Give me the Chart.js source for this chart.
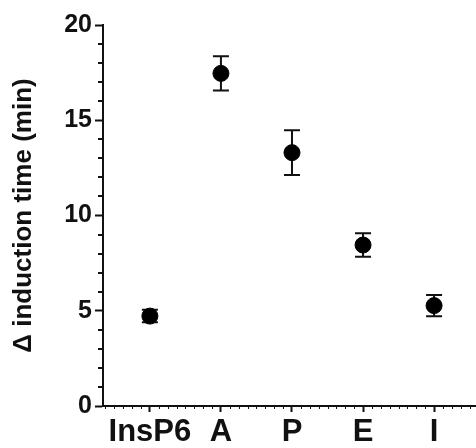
<!DOCTYPE html>
<html>
<head>
<meta charset="utf-8">
<script src="https://cdn.jsdelivr.net/npm/chart.js@4.4.0/dist/chart.umd.min.js"></script>
<style>
  html, body { margin: 0; padding: 0; background: #fff; }
  #wrap { width: 476px; height: 448px; }
</style>
</head>
<body>
<div id="wrap"><canvas id="grafico"></canvas></div>
<script>
// dados
const categorias = ['InsP6', 'A', 'P', 'E', 'I'];
const medias = [4.72, 17.46, 13.3, 8.45, 5.27];
const erros = [0.33, 0.9, 1.17, 0.62, 0.56];
const ticksY = [0, 5, 10, 15, 20];

const pontos = categorias.map((c, i) => ({ x: i + 1, y: medias[i] }));

// barras de erro desenhadas com as escalas do Chart.js
const barrasErro = {
    id: 'barrasErro',
    beforeDatasetsDraw(chart) {
        const ctx = chart.ctx;
        const sx = chart.scales.x, sy = chart.scales.y;
        ctx.save();
        ctx.strokeStyle = '#111';
        ctx.lineWidth = 2;
        medias.forEach((m, i) => {
            const px = sx.getPixelForValue(i + 1);
            const top = sy.getPixelForValue(m + erros[i]);
            const bot = sy.getPixelForValue(m - erros[i]);
            ctx.beginPath();
            ctx.moveTo(px, top); ctx.lineTo(px, bot);
            ctx.moveTo(px - 8, top); ctx.lineTo(px + 8, top);
            ctx.moveTo(px - 8, bot); ctx.lineTo(px + 8, bot);
            ctx.stroke();
        });
        ctx.restore();
    }
};

// traços menores nos eixos
const tracosMenores = {
    id: 'tracosMenores',
    afterDraw(chart) {
        const ctx = chart.ctx;
        const sx = chart.scales.x, sy = chart.scales.y;
        const area = chart.chartArea;
        ctx.save();
        ctx.strokeStyle = '#111';
        ctx.lineWidth = 2;
        ctx.beginPath();
        for (let v = sy.min; v <= sy.max; v++) {
            if (v % 5 === 0) continue;
            const py = Math.round(sy.getPixelForValue(v));
            ctx.moveTo(area.left - 5, py); ctx.lineTo(area.left, py);
        }
        ctx.stroke();
        ctx.lineWidth = 1;
        ctx.beginPath();
        for (let v = Math.ceil(sx.min * 8) / 8; v <= sx.max; v += 0.125) {
            if (Math.abs(v - Math.round(v)) < 0.01) continue;
            const px = Math.round(sx.getPixelForValue(v)) + 0.5;
            ctx.moveTo(px, area.bottom); ctx.lineTo(px, area.bottom + 3);
        }
        ctx.stroke();
        ctx.restore();
    }
};

new Chart(document.getElementById('grafico').getContext('2d'), {
    type: 'scatter',
    data: {
        datasets: [{
            data: pontos,
            backgroundColor: '#000',
            borderColor: '#000',
            pointRadius: 8,
            pointHoverRadius: 8
        }]
    },
    options: {
        responsive: true,
        maintainAspectRatio: false,
        animation: false,
        layout: { autoPadding: false, padding: { top: 25, right: 0, left: 0, bottom: 0 } },
        plugins: {
            legend: { display: false },
            tooltip: { enabled: false }
        },
        scales: {
            x: {
                type: 'linear',
                min: 0.34,
                max: 5.59,
                afterBuildTicks: (s) => { s.ticks = categorias.map((c, i) => ({ value: i + 1 })); },
                afterFit: (s) => { s.height = 42; s.paddingLeft = 0; s.paddingRight = 0; },
                border: { color: '#111', width: 2 },
                grid: { drawOnChartArea: false, tickLength: 6, tickWidth: 2, tickColor: '#111' },
                ticks: {
                    color: '#111',
                    padding: 2,
                    maxRotation: 0,
                    autoSkip: false,
                    font: { family: "'Liberation Sans', Arial, sans-serif", size: 31, weight: 'bold' },
                    callback: (v) => categorias[v - 1] || ''
                }
            },
            y: {
                min: 0,
                max: 20,
                afterBuildTicks: (s) => { s.ticks = ticksY.map(v => ({ value: v })); },
                afterFit: (s) => { s.width = 103; s.paddingTop = 0; s.paddingBottom = 0; },
                border: { color: '#111', width: 2 },
                grid: { drawOnChartArea: false, tickLength: 8, tickWidth: 2, tickColor: '#111' },
                ticks: {
                    color: '#111',
                    padding: 3,
                    font: { family: "'Liberation Sans', Arial, sans-serif", size: 25, weight: 'bold' }
                },
                title: {
                    display: true,
                    text: 'Δ induction time (min)',
                    color: '#111',
                    padding: { top: 8, bottom: 0 },
                    font: { family: "'Liberation Sans', Arial, sans-serif", size: 26, weight: 'bold' }
                }
            }
        }
    },
    plugins: [barrasErro, tracosMenores]
});
</script>
</body>
</html>
